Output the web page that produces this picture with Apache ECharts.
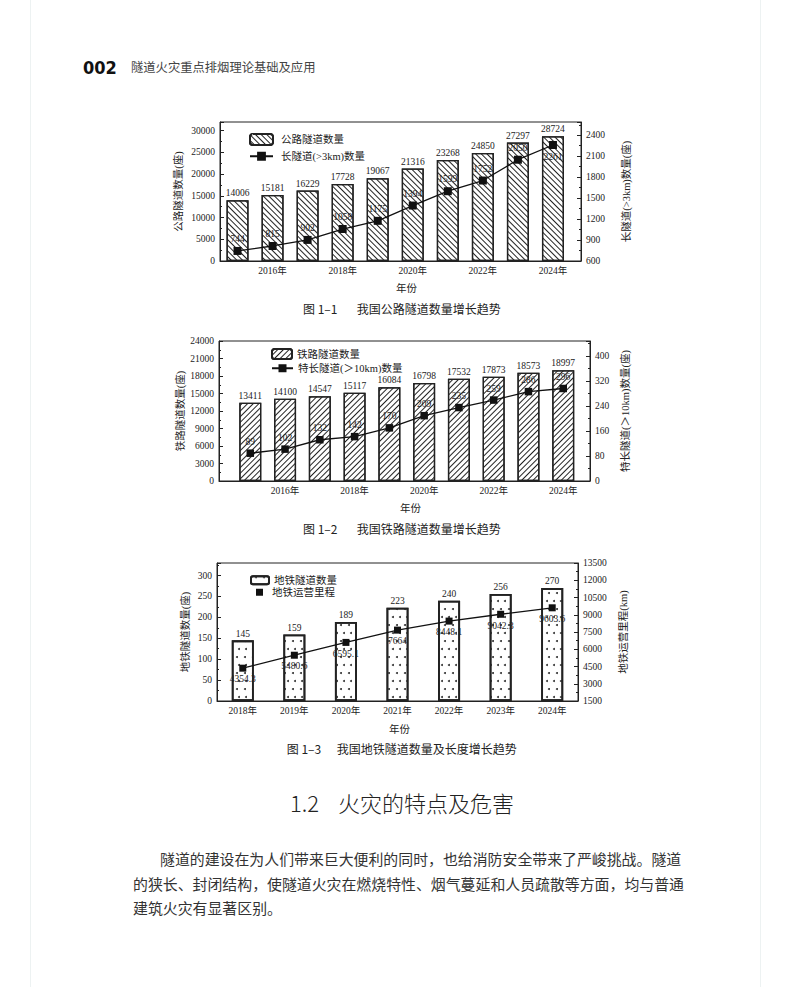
<!DOCTYPE html>
<html>
<head>
<meta charset="utf-8">
<title>隧道火灾重点排烟理论基础及应用</title>
<script src="https://cdn.jsdelivr.net/npm/echarts@6/dist/echarts.min.js"></script>
<style>
  html, body { margin: 0; padding: 0; background: #fff; }
  #page { width: 790px; height: 987px; }
</style>
</head>
<body>
<div id="page"></div>
<script>
// 图1-1 公路隧道
var roadYears = [2015, 2016, 2017, 2018, 2019, 2020, 2021, 2022, 2023, 2024];
var roadTunnels = [14006, 15181, 16229, 17728, 19067, 21316, 23268, 24850, 27297, 28724];
var roadLong = [744, 815, 902, 1058, 1175, 1394, 1599, 1752, 2050, 2261];

// 图1-2 铁路隧道
var railYears = [2015, 2016, 2017, 2018, 2019, 2020, 2021, 2022, 2023, 2024];
var railTunnels = [13411, 14100, 14547, 15117, 16084, 16798, 17532, 17873, 18573, 18997];
var railExtraLong = [89, 102, 132, 142, 170, 209, 235, 259, 286, 296];

// 图1-3 地铁隧道
var metroYears = [2018, 2019, 2020, 2021, 2022, 2023, 2024];
var metroTunnels = [145, 159, 189, 223, 240, 256, 270];
var metroMileage = [4354.3, 5480.6, 6595.1, 7664, 8448.1, 9042.3, 9603.6];

// 横轴刻度标签
var labelYears = [2016, 2018, 2020, 2022, 2024];

var serif = '"Liberation Serif", "Noto Sans CJK SC"';
var cjk = '"Noto Sans CJK SC"';
var ink = '#222';

function pairs(xs, ys) {
  return xs.map(function (x, i) { return [x, ys[i]]; });
}

function hatch(rot) {
  return {
    symbol: 'rect', symbolSize: 1, color: '#222',
    dashArrayX: [1, 0], dashArrayY: [1, 2.3], rotation: rot
  };
}

var dots = {
  symbol: 'circle', symbolSize: 1, color: '#333',
  dashArrayX: [[1.2, 5], [0, 3.1, 1.2, 1.9]], dashArrayY: [1.2, 5.8]
};

function yAxisBase(idx, opt, showMax) {
  var a = {
    type: 'value', gridIndex: idx,
    axisLine: { show: true, lineStyle: { color: ink, width: 1 } },
    axisTick: { show: true, inside: true, length: 4, lineStyle: { color: ink } },
    minorTick: { show: true, splitNumber: 2, length: 2, lineStyle: { color: ink } },
    splitLine: { show: false },
    axisLabel: {
      fontFamily: serif, fontSize: 9.5, color: ink, margin: 5, showMaxLabel: showMax,
      formatter: function (v) { return String(v); }
    },
    nameLocation: 'middle', nameRotate: 90,
    nameTextStyle: { fontFamily: serif, fontSize: 10.5, color: ink }
  };
  for (var k in opt) a[k] = opt[k];
  return a;
}

function yearAxis(idx, min, max) {
  return {
    type: 'value', gridIndex: idx, min: min, max: max,
    axisLine: { lineStyle: { color: ink, width: 1 } },
    axisTick: { inside: true, length: 4, customValues: labelYears, lineStyle: { color: ink } },
    splitLine: { show: false },
    axisLabel: {
      customValues: labelYears, fontFamily: serif, fontSize: 9.5, color: ink, margin: 5,
      formatter: function (v) { return v + '年'; }
    },
    name: '年份', nameLocation: 'middle', nameGap: 21,
    nameTextStyle: { fontFamily: cjk, fontSize: 10.5, color: ink, padding: [0, 0, 0, 12] }
  };
}

function barSeries(name, xi, yi, data, decal, bw) {
  return {
    name: name, type: 'bar', xAxisIndex: xi, yAxisIndex: yi, data: data,
    barWidth: 22,
    itemStyle: { color: '#fff', borderColor: '#222', borderWidth: bw, decal: decal },
    label: { show: true, position: 'top', distance: 2, fontFamily: serif, fontSize: 9.5, color: ink }
  };
}

// below: indexes whose value label sits under the marker
function lineSeries(name, xi, yi, data, size, pos, below) {
  var items = data.map(function (d, i) {
    if (below && below.indexOf(i) >= 0) {
      return { value: d, label: { position: 'bottom' } };
    }
    return d;
  });
  return {
    name: name, type: 'line', xAxisIndex: xi, yAxisIndex: yi, data: items,
    symbol: 'rect', symbolSize: size, z: 3,
    itemStyle: { color: '#111' },
    lineStyle: { color: '#111', width: 1.3 },
    label: { show: true, position: pos, distance: 3, fontFamily: serif, fontSize: 9.5, color: ink }
  };
}

function legendBox(name, left, top, w, h, pad, icon) {
  return {
    data: [icon ? { name: name, icon: icon } : name],
    left: left, top: top, padding: 0, itemWidth: w, itemHeight: h,
    selectedMode: false,
    textStyle: { fontFamily: serif, fontSize: 10.5, color: ink, padding: [0, 0, 0, pad] }
  };
}

function text(str, x, y, size, color, family, weight) {
  return {
    type: 'text', x: x, y: y, silent: true,
    style: {
      text: str, fontSize: size, fill: color, fontFamily: family || cjk,
      fontWeight: weight || 'normal', align: 'left', verticalAlign: 'middle'
    }
  };
}

var chart = echarts.init(document.getElementById('page'), null, { renderer: 'svg' });

var option = {
  animation: false,
  backgroundColor: '#fff',
  grid: [
    { left: 220, top: 122, width: 361, height: 139, show: true, borderColor: ink, borderWidth: 1 },
    { left: 219, top: 341, width: 371, height: 140, show: true, borderColor: ink, borderWidth: 1 },
    { left: 217, top: 563, width: 361, height: 138, show: true, borderColor: ink, borderWidth: 1 }
  ],
  xAxis: [
    yearAxis(0, 2014.5, 2024.8),
    yearAxis(1, 2014.1, 2024.77),
    {
      type: 'category', gridIndex: 2,
      data: metroYears.map(function (y) { return y + '年'; }),
      axisLine: { lineStyle: { color: ink, width: 1 } },
      axisTick: { inside: true, length: 4, alignWithLabel: true, lineStyle: { color: ink } },
      axisLabel: { fontFamily: serif, fontSize: 9.5, color: ink, margin: 5 },
      name: '年份', nameLocation: 'middle', nameGap: 22,
      nameTextStyle: { fontFamily: cjk, fontSize: 10.5, color: ink, padding: [0, 0, 0, 4] }
    }
  ],
  yAxis: [
    yAxisBase(0, { min: 0, max: 32000, interval: 5000, position: 'left', name: '公路隧道数量(座)', nameGap: 36 }, false),
    yAxisBase(0, { min: 600, max: 2590, interval: 300, position: 'right', name: '长隧道(>3km)数量(座)', nameGap: 40 }, false),
    yAxisBase(1, { min: 0, max: 24000, interval: 3000, position: 'left', name: '铁路隧道数量(座)', nameGap: 33 }, true),
    yAxisBase(1, { min: 0, max: 448, interval: 80, position: 'right', name: '特长隧道(＞10km)数量(座)', nameGap: 30 }, false),
    yAxisBase(2, { min: 0, max: 330, interval: 50, position: 'left', name: '地铁隧道数量(座)', nameGap: 26 }, false),
    yAxisBase(2, { min: 1500, max: 13500, interval: 1500, position: 'right', name: '地铁运营里程(km)', nameGap: 40 }, true)
  ],
  legend: [
    legendBox('公路隧道数量', 249, 133, 23, 11, 3),
    legendBox('长隧道(>3km)数量', 249, 151, 23, 11, 3),
    legendBox('铁路隧道数量', 271, 348, 20, 10, 0),
    legendBox('特长隧道(＞10km)数量', 271, 363, 21, 10, 0),
    legendBox('地铁隧道数量', 250, 575, 18, 8, 0),
    legendBox('地铁运营里程', 256, 587, 7, 7, 4, 'rect')
  ],
  series: [
    barSeries('公路隧道数量', 0, 0, pairs(roadYears, roadTunnels), hatch(Math.PI / 4), 1.3),
    lineSeries('长隧道(>3km)数量', 0, 1, pairs(roadYears, roadLong), 8, 'top', [9]),
    barSeries('铁路隧道数量', 1, 2, pairs(railYears, railTunnels), hatch(-Math.PI / 4), 1.3),
    lineSeries('特长隧道(＞10km)数量', 1, 3, pairs(railYears, railExtraLong), 7.5, 'top'),
    barSeries('地铁隧道数量', 2, 4, metroTunnels, dots, 1.8),
    lineSeries('地铁运营里程', 2, 5, metroMileage, 7, 'bottom')
  ],
  graphic: [
    { type: 'line', silent: true, shape: { x1: 30.5, y1: 0, x2: 30.5, y2: 987 }, style: { stroke: '#edf2f2', lineWidth: 1 } },
    { type: 'line', silent: true, shape: { x1: 760.5, y1: 0, x2: 760.5, y2: 987 }, style: { stroke: '#edf2f2', lineWidth: 1 } },
    text('002', 83, 67, 18, '#111', '"DejaVu Sans Condensed", "DejaVu Sans"', 'bold'),
    text('隧道火灾重点排烟理论基础及应用', 131, 67, 12.3, '#444'),
    text('图 1–1', 303, 308, 12, ink),
    text('我国公路隧道数量增长趋势', 356.7, 308, 12, ink),
    text('图 1–2', 303, 528, 12, ink),
    text('我国铁路隧道数量增长趋势', 356.7, 528, 12, ink),
    text('图 1–3', 286.7, 748, 12, ink),
    text('我国地铁隧道数量及长度增长趋势', 336.7, 748, 12, ink),
    text('1.2', 290, 802, 22, ink, cjk, 300),
    text('火灾的特点及危害', 338, 802, 22, ink, cjk, 300),
    text('隧道的建设在为人们带来巨大便利的同时，也给消防安全带来了严峻挑战。隧道', 160, 858, 14.9, '#333'),
    text('的狭长、封闭结构，使隧道火灾在燃烧特性、烟气蔓延和人员疏散等方面，均与普通', 133, 883, 14.9, '#333'),
    text('建筑火灾有显著区别。', 133, 907, 14.9, '#333')
  ]
};

chart.setOption(option);
</script>
</body>
</html>
